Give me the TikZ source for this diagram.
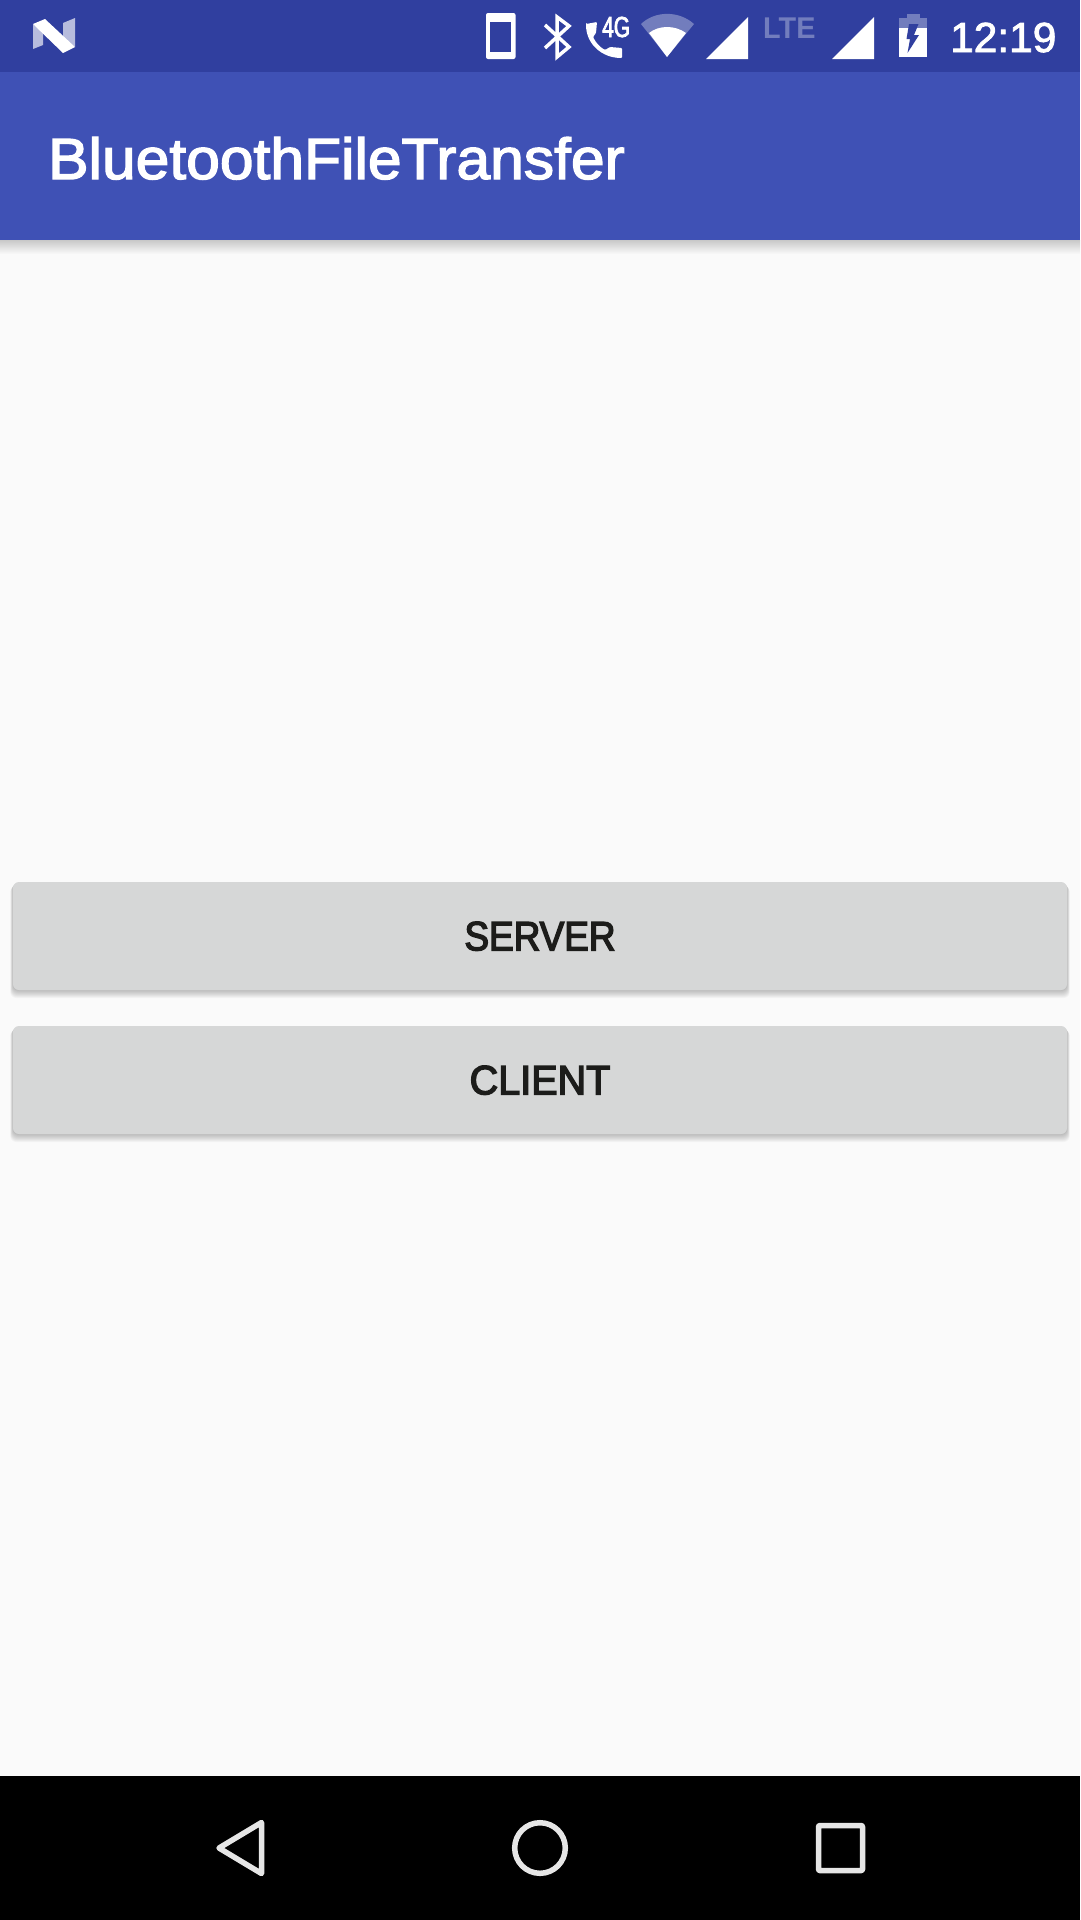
\documentclass[tikz,border=0pt]{standalone}
\usepackage{fontspec}
\setmainfont{Liberation Sans}
\newfontfamily\titlefont[FakeBold=2.4, FakeStretch=1.044]{Liberation Sans}
\newfontfamily\serverfont[FakeBold=3.4, FakeStretch=0.9]{Liberation Sans}
\newfontfamily\clientfont[FakeBold=3.4, FakeStretch=0.965]{Liberation Sans}
\newfontfamily\clockfont[FakeBold=2, FakeStretch=1.01]{Liberation Sans}
\newfontfamily\narrowfont[FakeBold=2.5, FakeStretch=0.72]{Liberation Sans}
\newfontfamily\ltefont[FakeStretch=0.96]{Liberation Sans Bold}

\definecolor{statusblue}{HTML}{303F9F}
\definecolor{barblue}{HTML}{3F51B5}
\definecolor{fadedblue}{HTML}{727DBD}
\definecolor{screengray}{HTML}{FAFAFA}
\definecolor{buttongray}{HTML}{D6D7D7}
\definecolor{labelblack}{HTML}{1C1C1A}
\definecolor{navgray}{HTML}{E6E6E6}
\definecolor{logopale}{HTML}{B7BCDD}

\tikzset{
    btnbox/.style={fill=buttongray, rounded corners=6pt, minimum width=1054pt, minimum height=108pt, inner sep=0pt, text=labelblack, text depth=-1pt},
    barlabel/.style={anchor=base west, inner sep=0pt, text=white},
    navicon/.style={draw=navgray, line width=5.5pt, line join=round}
}

\begin{document}
\begin{tikzpicture}[x=1pt, y=-1pt]

    \useasboundingbox (0, 0) rectangle (1080, 1920);
    \fill[screengray] (0, 0) rectangle (1080, 1920);

    % bars
    \shade[top color=black!20!screengray, bottom color=screengray] (0, 240) rectangle (1080, 254);
    \fill[barblue] (0, 72) rectangle (1080, 240);
    \fill[statusblue] (0, 0) rectangle (1080, 72);
    \fill[black] (0, 1776) rectangle (1080, 1920);

    % logo
    \fill[logopale] (33, 24) -- (43, 32) -- (43, 45) -- (33, 49) -- cycle;
    \fill[logopale] (63, 23) -- (75, 18) -- (75, 47) -- (63, 37) -- cycle;
    \fill[white] (33, 24) -- (45, 19) -- (75, 47) -- (63, 53) -- cycle;

    % phone
    \fill[white, rounded corners=2pt] (486, 13) rectangle (515.5, 59);
    \fill[statusblue] (490, 22) rectangle (511, 52);

    % bluetooth
    \draw[white, line width=3.5pt] (545, 25) -- (569, 47) -- (557, 57) -- (557, 17) -- (569, 26) -- (545, 48);

    % call
    \fill[white, rounded corners=1pt] (586, 24) -- (597, 22) -- (596, 33) -- (593, 37) .. controls (596, 43) and (600, 47) .. (605, 50) -- (610, 47) -- (622, 48) -- (622, 58) .. controls (602, 58) and (586, 44) .. cycle;
    \node[barlabel] (network) at (602, 37) {\narrowfont\fontsize{29}{32}\selectfont 4G};

    % wifi
    \fill[fadedblue] (667, 57) -- (641, 24) .. controls (655, 10.5) and (679, 10.5) .. (694, 24) -- cycle;
    \fill[white] (667, 57) -- (649, 33) .. controls (659, 25) and (675, 25) .. (686, 33) -- cycle;

    % signal
    \fill[white] (706, 59) -- (748, 17) -- (748, 59) -- cycle;
    \node[barlabel, text=fadedblue] (lte) at (763, 38) {\ltefont\fontsize{30}{32}\selectfont LTE};
    \fill[white] (832, 59) -- (874, 17) -- (874, 59) -- cycle;

    % battery
    \fill[fadedblue] (906.5, 14) rectangle (919.5, 19);
    \fill[fadedblue] (899, 18) rectangle (926.5, 28);
    \fill[white] (899, 28) rectangle (926.5, 57);
    \fill[statusblue] (909, 24) -- (918.5, 24) -- (914, 35) -- (919, 35) -- (907.5, 53) -- (910, 39) -- (906.5, 39) -- cycle;

    \node[barlabel] (clock) at (950, 52) {\clockfont\fontsize{42}{46}\selectfont 12:19};
    \node[barlabel] (title) at (48, 179) {\titlefont\fontsize{58}{64}\selectfont BluetoothFileTransfer};

    % buttons
    \foreach \btop in {882, 1026}
        \foreach \off in {1, ..., 8}
            \fill[black, opacity=0.032, rounded corners=6pt] (13 - \off/3, \btop + \off/2) rectangle (1067 + \off/3, \btop + 108 + \off);

    \node[btnbox] (server) at (540, 936) {\serverfont\fontsize{41}{48}\selectfont SERVER};
    \node[btnbox] (client) at (540, 1080) {\clientfont\fontsize{41}{48}\selectfont CLIENT};

    % navigation
    \draw[navicon] (219, 1848) -- (261.5, 1822.5) -- (261.5, 1873.5) -- cycle;
    \draw[navicon] (540, 1848) circle (25.3pt);
    \draw[navicon, rounded corners=1pt] (818.5, 1825.5) rectangle (862.5, 1870.5);

\end{tikzpicture}
\end{document}
